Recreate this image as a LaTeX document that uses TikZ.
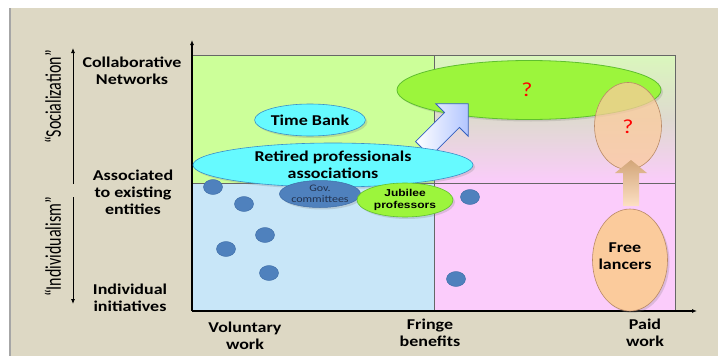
\documentclass[tikz,border=0pt]{standalone}
\usepackage{fontspec}
\setmainfont{Carlito}[FakeStretch=1.2]
\newfontfamily\plainfont{Carlito}
\newfontfamily\arialfont{Liberation Sans}[FakeStretch=1.2]
\usetikzlibrary{arrows.meta,shapes.geometric,shadows}

\definecolor{panel}{HTML}{DDD8C4}
\definecolor{qgreen}{HTML}{CCFF99}
\definecolor{qpalegreen}{HTML}{DAF7BC}
\definecolor{qblue}{HTML}{C8E6F8}
\definecolor{qpink}{HTML}{FBCCFB}
\definecolor{limefill}{HTML}{9CF53C}
\definecolor{limeline}{HTML}{5FBF2F}
\definecolor{cyanfill}{HTML}{66FAFF}
\definecolor{cyanline}{HTML}{3A8FC8}
\definecolor{dotblue}{HTML}{4F81BD}
\definecolor{dotline}{HTML}{3E6CA6}
\definecolor{peach}{HTML}{FBCB9C}
\definecolor{peachline}{HTML}{B98A66}
\definecolor{arrowblue}{HTML}{3560C0}
\definecolor{govtext}{HTML}{22324E}

\tikzset{
  blob/.style={ellipse, inner sep=0pt, align=center,
    font=\bfseries\fontsize{15}{17}\selectfont,
    drop shadow={shadow xshift=2pt, shadow yshift=-2pt, opacity=0.25}},
  axislabel/.style={align=center, font=\bfseries\fontsize{15}{17}\selectfont},
  sidelabel/.style={rotate=90, yscale=1.4, font=\plainfont\fontsize{16}{18}\selectfont},
  qmark/.style={text=red, font=\mdseries\fontsize{20}{22}\selectfont},
  dot/.style={fill=dotblue, draw=dotline, line width=0.4pt}
}

\begin{document}
\begin{tikzpicture}[x=1pt, y=-1pt, >={Latex[length=5pt,width=4pt]}]
    \useasboundingbox (0,0) rectangle (718,356);
    % the panel behind everything
    \fill[white] (0,0) rectangle (718,356);
    \fill[panel] (10,8) rectangle (718,356);
    \draw[gray!70, line width=1.2pt] (10,8) -- (10,356);

    % the four quadrants
    \fill[qgreen] (193,55) rectangle (434,183);
    \shade[top color=qpalegreen, bottom color=qpink, middle color=qpink!45!qpalegreen!90!gray]
        (434,55) rectangle (675,183);
    \fill[qblue] (193,183) rectangle (434,311);
    \fill[qpink] (434,183) rectangle (675,311);
    % the grey frame and dividers
    \draw[black!60, line width=0.8pt] (193,55) -- (675,55) -- (675,311);
    \draw[black!60, line width=0.8pt] (193,183) -- (675,183);
    \draw[black!60, line width=0.8pt] (434,55) -- (434,311);

    % the axes
    \coordinate (origin) at (192,311);
    \coordinate (ytop) at (192,40);
    \coordinate (xend) at (697,311);
    \draw[->, line width=1.6pt] (origin) -- (ytop);
    \draw[->, line width=1.6pt] (origin) -- (xend);

    % the two side arrows and their labels
    \coordinate (socbase) at (73,184);
    \coordinate (soctip) at (73,48);
    \coordinate (indbase) at (73,197);
    \coordinate (indtip) at (73,304);
    \draw[->, line width=0.8pt] (socbase) -- (soctip);
    \draw[->, line width=0.8pt] (indbase) -- (indtip);
    \node[sidelabel] (socl) at (53,97) {“Socialization”};
    \node[sidelabel] (indl) at (53,247) {“Individualism”};

    % labels of the vertical axis
    \node[axislabel] (collab) at (132,71) {Collaborative\\Networks};
    \node[axislabel] (assoc) at (133,192) {Associated\\to existing\\entities};
    \node[axislabel] (indiv) at (130,298) {Individual\\initiatives};

    % labels of the horizontal axis
    \node[axislabel] (volun) at (245,336) {Voluntary\\work};
    \node[axislabel] (fringe) at (430,333) {Fringe\\benefits};
    \node[axislabel] (paid) at (645,333) {Paid\\work};

    % the big green ellipse
    \node[blob, fill=limefill, draw=limeline, line width=0.8pt,
        minimum width=264pt, minimum height=59pt] (future) at (529,90) {};
    \node[qmark] at (527,90) {?};

    % the blue block arrow towards it
    \begin{scope}[shift={(423,149)}, rotate=45]
        \draw[arrowblue, line width=0.8pt, left color=white, right color=cyan!25!blue!30]
            (0,-10.5) -- (41,-10.5) -- (41,-23) -- (64,0) -- (41,23) -- (41,10.5) -- (0,10.5) -- cycle;
    \end{scope}

    % the peach ellipse with the question
    \node[ellipse, fill=peach, fill opacity=0.75, draw=peachline, line width=0.6pt,
        minimum width=67pt, minimum height=87pt, inner sep=0pt] (freeq) at (628,126) {};
    \node[qmark] at (628,127) {?};

    % the free lancers and their arrow upwards
    \node[blob, fill=peach, draw=peachline, line width=0.6pt,
        minimum width=75pt, minimum height=102pt] (free) at (630,260) {};
    \node[axislabel] at (625,256) {Free\\lancers};
    \shade[top color=brown!70!white, bottom color=peach!60!white]
        (623,206) -- (623,173) -- (615,173) -- (631,160) -- (647,173) -- (639,173) -- (639,206) -- cycle;

    % the cyan ellipses
    \node[blob, fill=cyanfill, draw=cyanline, line width=0.6pt,
        minimum width=98pt, minimum height=32pt] (tbank) at (310,120) {Time Bank};
    \node[blob, fill=cyanfill, draw=cyanline, line width=0.6pt,
        minimum width=280pt, minimum height=44pt] (retired) at (333,165)
        {Retired professionals\\associations};

    % the small ones below it
    \node[blob, fill=dotblue, draw=dotline, line width=0.5pt, text=govtext,
        font=\mdseries\fontsize{10}{11}\selectfont,
        minimum width=80pt, minimum height=27pt] (gov) at (320,194) {Gov.\\committees};
    \node[blob, fill=limefill, draw=limeline, line width=0.6pt,
        font=\arialfont\bfseries\fontsize{10}{12}\selectfont,
        minimum width=96pt, minimum height=34pt] (jubilee) at (405,200) {Jubilee\\professors};

    % the blue dots
    \foreach \x/\y in {213/187, 244/204, 265/235, 226/249, 269/273, 470/197, 456/279}
        \draw[dot] (\x,\y) ellipse [x radius=9.5pt, y radius=7.5pt];
\end{tikzpicture}
\end{document}
